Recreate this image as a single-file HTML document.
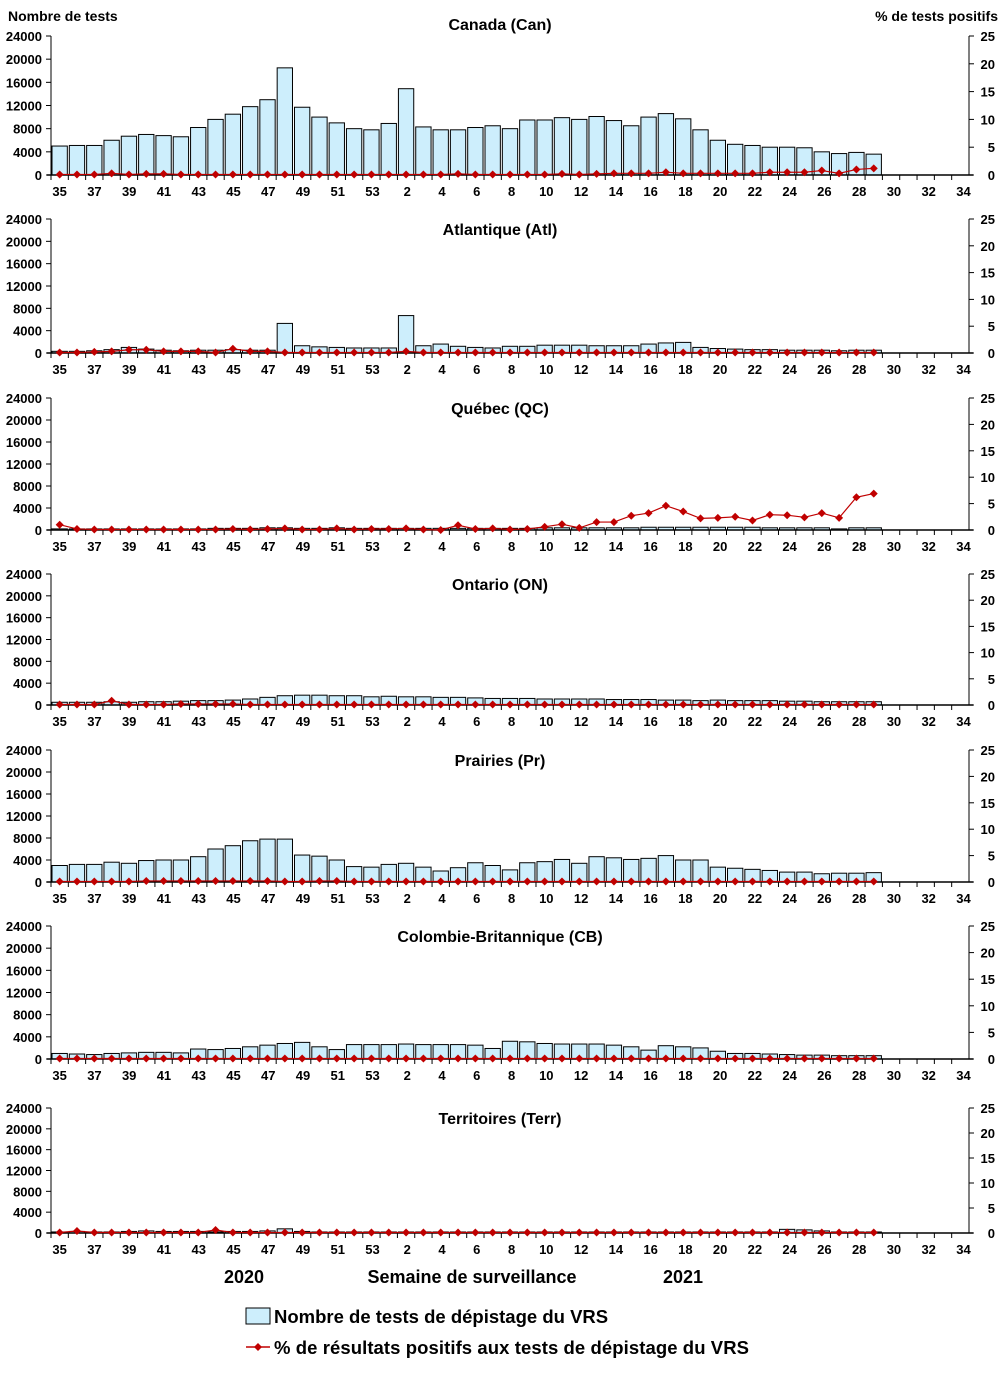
<!DOCTYPE html>
<html><head><meta charset="utf-8"><style>
body{margin:0;background:#fff;}
svg{display:block;font-family:"Liberation Sans",Arial,sans-serif;}
</style></head><body>
<svg id="c" width="1004" height="1374"></svg>
<script>
const weeks=[35,36,37,38,39,40,41,42,43,44,45,46,47,48,49,50,51,52,53,1,2,3,4,5,6,7,8,9,10,11,12,13,14,15,16,17,18,19,20,21,22,23,24,25,26,27,28,29,30,31,32,33,34];
const leftTicks=[0,4000,8000,12000,16000,20000,24000];
const rightTicks=[0,5,10,15,20,25];
const regionNames=["Canada (Can)","Atlantique (Atl)","Québec (QC)","Ontario (ON)","Prairies (Pr)","Colombie-Britannique (CB)","Territoires (Terr)"];
const testsCan=[5000,5100,5100,6000,6700,7000,6800,6600,8200,9600,10500,11800,13000,18500,11700,10000,9000,8000,7800,8900,14900,8300,7800,7800,8200,8500,8000,9500,9500,9900,9600,10100,9400,8500,10000,10600,9700,7800,6000,5300,5100,4800,4800,4700,4000,3700,3900,3600];
const pctCan=[0.1,0.1,0.1,0.3,0.1,0.2,0.2,0.1,0.1,0.1,0.1,0.1,0.1,0.1,0.1,0.1,0.1,0.1,0.1,0.1,0.1,0.1,0.1,0.2,0.1,0.1,0.1,0.1,0.1,0.2,0.1,0.2,0.3,0.3,0.3,0.5,0.3,0.3,0.3,0.3,0.3,0.5,0.5,0.5,0.8,0.3,1.0,1.2];
const testsAtl=[300,300,400,600,1000,700,500,400,500,500,600,500,500,5300,1300,1100,1000,900,900,900,6700,1300,1600,1200,1000,900,1200,1200,1400,1400,1400,1300,1300,1300,1600,1800,1900,1000,800,700,600,600,500,500,500,400,500,500];
const pctAtl=[0.1,0.1,0.2,0.3,0.6,0.6,0.3,0.3,0.3,0.1,0.8,0.3,0.3,0.1,0.1,0.1,0.1,0.1,0.1,0.1,0.3,0.1,0.1,0.1,0.1,0.1,0.1,0.1,0.1,0.1,0.1,0.1,0.1,0.1,0.1,0.1,0.1,0.1,0.1,0.1,0.1,0.1,0.1,0.1,0.1,0.1,0.1,0.1];
const testsQC=[200,200,200,200,200,200,200,200,200,300,300,300,400,400,300,300,400,300,300,300,300,300,300,300,300,300,300,300,400,400,400,400,400,400,500,500,500,500,500,500,500,400,400,400,400,200,400,400];
const pctQC=[1.0,0.2,0.1,0.1,0.1,0.1,0.1,0.1,0.1,0.1,0.2,0.1,0.2,0.3,0.1,0.1,0.3,0.1,0.2,0.2,0.3,0.1,0.0,0.9,0.2,0.3,0.1,0.2,0.6,1.1,0.4,1.5,1.5,2.7,3.2,4.6,3.5,2.2,2.3,2.5,1.8,2.9,2.8,2.4,3.2,2.3,6.2,6.9];
const testsON=[500,500,500,600,500,600,600,700,800,800,900,1100,1400,1700,1800,1800,1700,1700,1500,1600,1500,1500,1400,1400,1300,1200,1200,1200,1100,1100,1100,1100,1000,1000,1000,900,900,800,900,800,800,800,700,700,600,600,600,600];
const pctON=[0.1,0.1,0.1,0.8,0.1,0.1,0.1,0.2,0.2,0.2,0.2,0.1,0.1,0.1,0.1,0.1,0.1,0.1,0.1,0.1,0.1,0.1,0.1,0.1,0.1,0.1,0.1,0.1,0.1,0.1,0.1,0.1,0.1,0.1,0.1,0.1,0.1,0.1,0.1,0.1,0.1,0.1,0.1,0.1,0.1,0.1,0.1,0.1];
const testsPr=[3000,3200,3200,3600,3400,3900,4000,4000,4600,6000,6600,7500,7800,7800,4900,4700,4000,2800,2700,3200,3400,2700,2000,2600,3500,3000,2200,3500,3700,4100,3400,4600,4400,4100,4300,4800,4000,4000,2700,2500,2300,2100,1800,1800,1500,1600,1600,1700];
const pctPr=[0.1,0.1,0.1,0.1,0.1,0.2,0.2,0.2,0.2,0.2,0.2,0.2,0.2,0.1,0.1,0.2,0.2,0.1,0.1,0.1,0.1,0.1,0.1,0.1,0.1,0.1,0.1,0.1,0.1,0.1,0.1,0.1,0.1,0.1,0.1,0.1,0.1,0.1,0.1,0.1,0.1,0.1,0.1,0.1,0.1,0.1,0.1,0.1];
const testsCB=[1000,900,800,1000,1100,1200,1200,1100,1800,1700,1900,2200,2500,2800,3000,2200,1700,2600,2600,2600,2700,2600,2600,2600,2500,1900,3200,3100,2800,2700,2700,2700,2500,2200,1600,2400,2200,2000,1400,1000,1000,900,800,700,700,600,600,600];
const pctCB=[0.1,0.1,0.1,0.1,0.1,0.1,0.1,0.1,0.1,0.1,0.1,0.1,0.1,0.1,0.1,0.1,0.1,0.1,0.1,0.1,0.1,0.1,0.1,0.1,0.1,0.1,0.1,0.1,0.1,0.1,0.1,0.1,0.1,0.1,0.1,0.1,0.1,0.1,0.1,0.1,0.1,0.1,0.1,0.1,0.1,0.1,0.1,0.1];
const testsTerr=[200,300,200,200,300,400,300,300,300,200,300,300,400,800,300,200,200,200,200,200,200,200,200,200,200,200,200,200,200,200,200,200,200,200,200,200,200,200,200,200,200,200,700,600,400,200,200,200];
const pctTerr=[0.1,0.4,0.1,0.1,0.1,0.1,0.1,0.1,0.1,0.6,0.1,0.1,0.1,0.1,0.1,0.1,0.1,0.1,0.1,0.1,0.1,0.1,0.1,0.1,0.1,0.1,0.1,0.1,0.1,0.1,0.1,0.1,0.1,0.1,0.1,0.1,0.1,0.1,0.1,0.1,0.1,0.1,0.1,0.1,0.1,0.1,0.1,0.1];
const allTests=[testsCan,testsAtl,testsQC,testsON,testsPr,testsCB,testsTerr];
const allPct=[pctCan,pctAtl,pctQC,pctON,pctPr,pctCB,pctTerr];

const tops=[36,219,398,574,750,926,1108], bots=[175,353,530,705,882,1059,1233];
const L=51,R=969,cw=(R-L)/weeks.length;
const svg=document.getElementById('c');const NS='http://www.w3.org/2000/svg';
function mk(tag,at,parent,txt){const e=document.createElementNS(NS,tag);for(const k in at)e.setAttribute(k,at[k]);if(txt!==undefined)e.textContent=txt;(parent||svg).appendChild(e);return e;}
const xC=i=>L+cw*(i+0.5);
regionNames.forEach((name,p)=>{
  const top=tops[p],bot=bots[p];
  const yL=v=>bot-(v/24000)*(bot-top);
  const yR=v=>bot-(v/25)*(bot-top);
  const g=mk('g',{});
  
  
  const t=mk('text',{x:500,y:p==0?top-6:top+16,'text-anchor':'middle','font-size':16,'font-weight':'bold'},g,name);
  
  
  allTests[p].forEach((v,i)=>{
    const r=mk('rect',{x:L+cw*i+1,y:yL(v),width:cw-2,height:bot-yL(v),fill:'#cdeefc',stroke:'#000','stroke-width':1},g);
    
    
  });
  mk('line',{x1:L,y1:top,x2:L,y2:bot,stroke:'#000'},g);
  mk('line',{x1:R,y1:top,x2:R,y2:bot,stroke:'#000'},g);
  mk('line',{x1:L-4,y1:bot,x2:R+4,y2:bot,stroke:'#000','stroke-width':1.5},g);
  leftTicks.forEach(v=>{mk('line',{x1:L-5,y1:yL(v),x2:L,y2:yL(v),stroke:'#000'},g);
    const tl=mk('text',{x:42,y:yL(v)+5,'text-anchor':'end','font-size':13,'font-weight':'bold'},g,v);
    
    });
  rightTicks.forEach(v=>{mk('line',{x1:R,y1:yR(v),x2:R+5,y2:yR(v),stroke:'#000'},g);
    const tr=mk('text',{x:995,y:yR(v)+5,'text-anchor':'end','font-size':13,'font-weight':'bold'},g,v);
    
    });
  weeks.forEach((w,i)=>{mk('line',{x1:L+cw*i,y1:bot,x2:L+cw*i,y2:bot+5,stroke:'#000'},g);
    if(i%2==0){const xl=mk('text',{x:xC(i)+0.06*i,y:bot+21,'text-anchor':'middle','font-size':13,'font-weight':'bold'},g,w);
    
    }});
  const pts=allPct[p].map((v,i)=>xC(i)+','+yR(v)).join(' ');
  const pl=mk('polyline',{points:pts,fill:'none',stroke:'#c00000','stroke-width':1.2},g);
  
  
  allPct[p].forEach((v,i)=>{const x=xC(i),y=yR(v);
    const d=mk('polygon',{points:`${x},${y-4} ${x+4},${y} ${x},${y+4} ${x-4},${y}`,fill:'#c00000'},g);
    
    });
});
</script>
<svg style="position:absolute;left:0;top:0" width="1004" height="1374">
<g font-family="Liberation Sans,Arial,sans-serif" font-weight="bold">
<text x="8" y="21" font-size="14">Nombre de tests</text>
<text x="998" y="21" font-size="14" text-anchor="end">% de tests positifs</text>
<text x="244" y="1283" font-size="18" text-anchor="middle">2020</text>
<text x="472" y="1283" font-size="18" text-anchor="middle">Semaine de surveillance</text>
<text x="683" y="1283" font-size="18" text-anchor="middle">2021</text>
<rect x="246" y="1308" width="24" height="16" fill="#cdeefc" stroke="#000"/>
<text x="274" y="1323" font-size="18.5">Nombre de tests de dépistage du VRS</text>
<line x1="246" y1="1347" x2="270" y2="1347" stroke="#c00000" stroke-width="1.5"/>
<polygon points="258,1343 262,1347 258,1351 254,1347" fill="#c00000"/>
<text x="274" y="1354" font-size="18.5" textLength="475">% de résultats positifs aux tests de dépistage du VRS</text>
</g></svg>
</body></html>
